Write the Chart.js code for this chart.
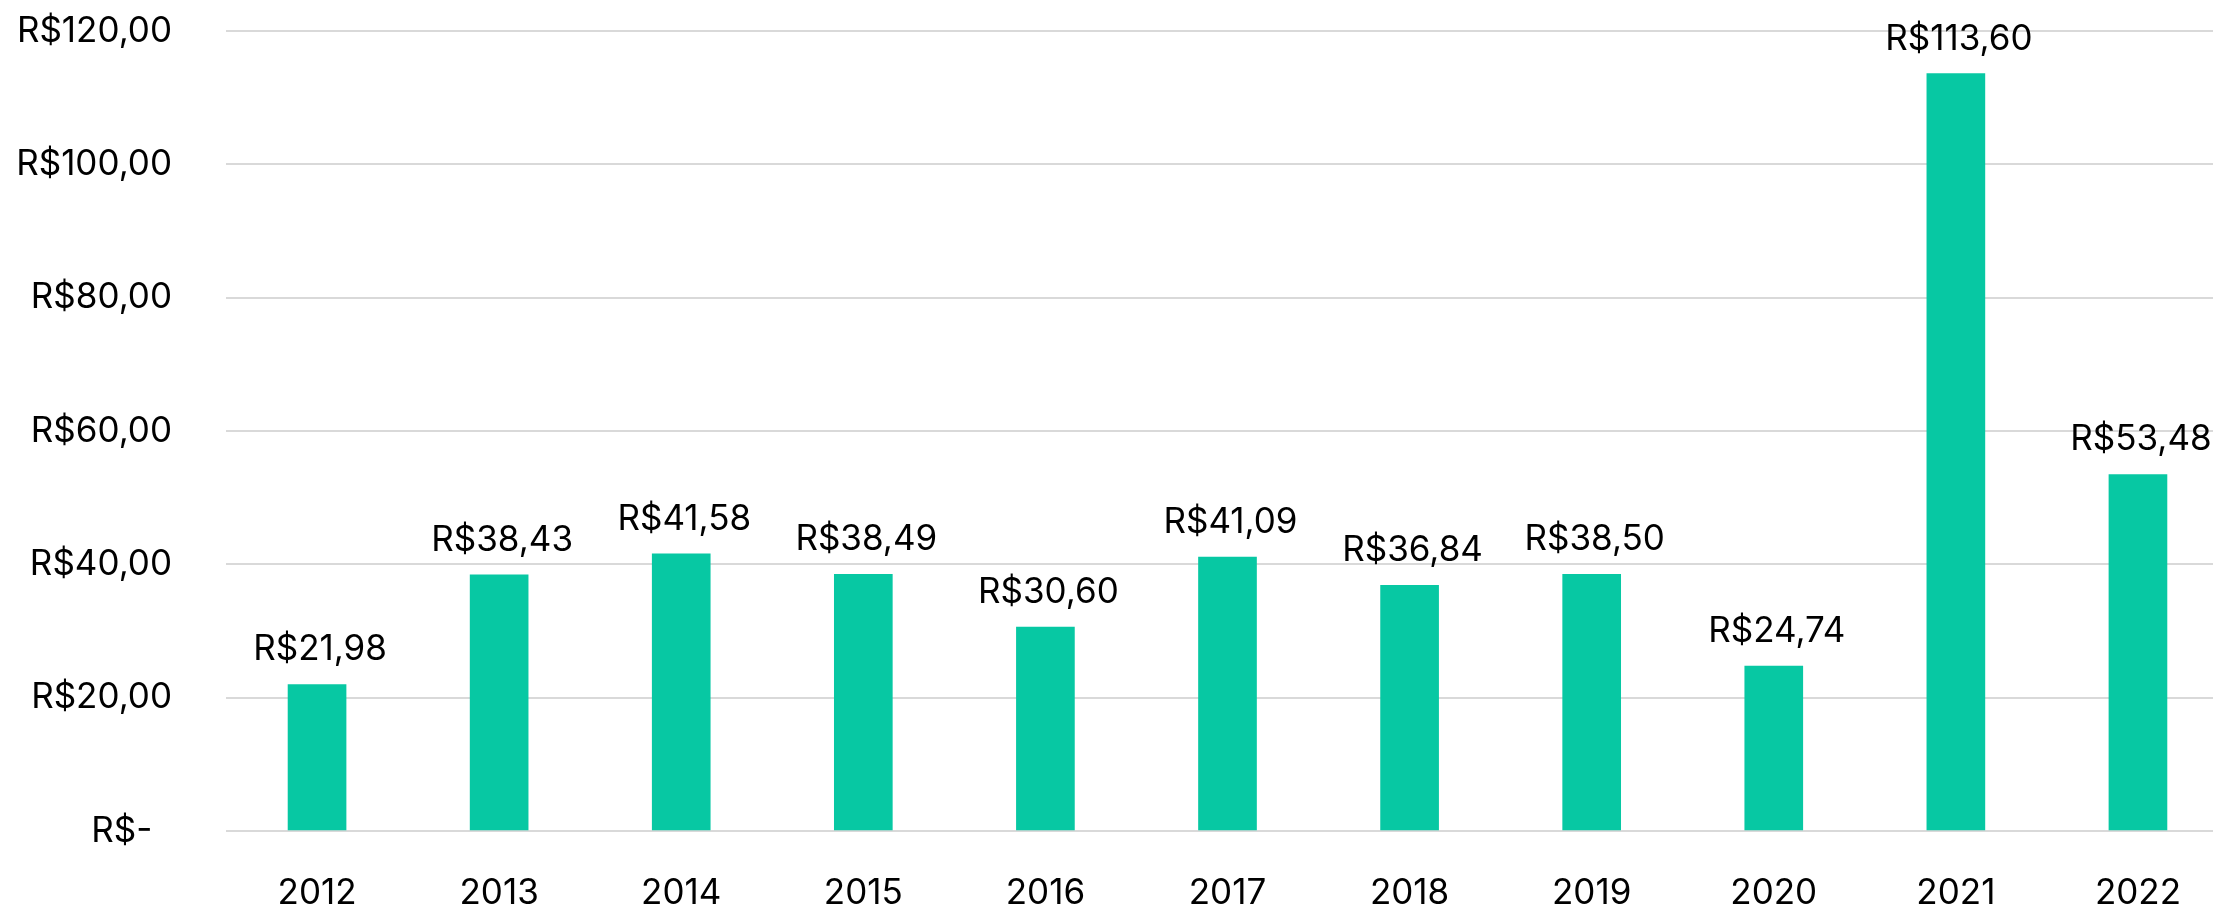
<!DOCTYPE html>
<html>
<head>
<meta charset="utf-8">
<script src="https://cdn.jsdelivr.net/npm/chart.js@4/dist/chart.umd.min.js"></script>
<style>
  html, body { margin: 0; padding: 0; background: #fff; overflow: hidden; }
  #wrap { width: 2213px; height: 911px; overflow: hidden; }
</style>
</head>
<body>
<div id="wrap"><canvas id="chart" width="2229" height="911"></canvas></div>
<script>
const years = ['2012', '2013', '2014', '2015', '2016', '2017', '2018', '2019', '2020', '2021', '2022']
const values = [21.98, 38.43, 41.58, 38.49, 30.60, 41.09, 36.84, 38.50, 24.74, 113.60, 53.48]
const yTicks = [0, 20, 40, 60, 80, 100, 120]

const FONT = 'Inter'
const FONT_SIZE = 35

function brl(v) {
    if (v === 0) return 'R$-  '
    return 'R$' + v.toFixed(2).replace('.', ',')
}

// value labels above the bars
const barLabels = {
    id: 'barLabels',
    afterDatasetsDraw(chart) {
        const ctx = chart.ctx
        const meta = chart.getDatasetMeta(0)
        ctx.save()
        ctx.font = FONT_SIZE + 'px ' + FONT
        ctx.fillStyle = '#000'
        ctx.textAlign = 'center'
        ctx.textBaseline = 'alphabetic'
        meta.data.forEach((bar, i) => {
            ctx.fillText(brl(values[i]), bar.x + 3, bar.y - 24)
        })
        ctx.restore()
    }
}

const ctx = document.getElementById('chart').getContext('2d')
const chart = new Chart(ctx, {
    type: 'bar',
    data: {
        labels: years,
        datasets: [{
            data: values,
            backgroundColor: '#07c8a3',
            borderWidth: 0,
            barThickness: 58
        }]
    },
    options: {
        responsive: false,
        animation: false,
        events: [],
        layout: { padding: { top: 31, right: 0, bottom: 0, left: 0 } },
        plugins: {
            legend: { display: false },
            tooltip: { enabled: false }
        },
        scales: {
            x: {
                grid: { display: false },
                border: { display: false },
                afterFit: (scale) => { scale.height = 80 },
                ticks: {
                    color: '#000',
                    padding: 33,
                    font: { family: FONT, size: FONT_SIZE }
                }
            },
            y: {
                min: 0,
                max: 120,
                afterBuildTicks: (scale) => {
                    scale.ticks = yTicks.map(v => ({ value: v }))
                },
                afterFit: (scale) => {
                    scale.width = 226
                    scale.paddingTop = 0
                    scale.paddingBottom = 0
                },
                grid: { color: '#d9d9d9', lineWidth: 2, drawTicks: false },
                border: { display: false },
                ticks: {
                    color: '#000',
                    padding: 54,
                    font: { family: FONT, size: FONT_SIZE },
                    callback: (v) => brl(v)
                }
            }
        }
    },
    plugins: [barLabels]
})
</script>
</body>
</html>
